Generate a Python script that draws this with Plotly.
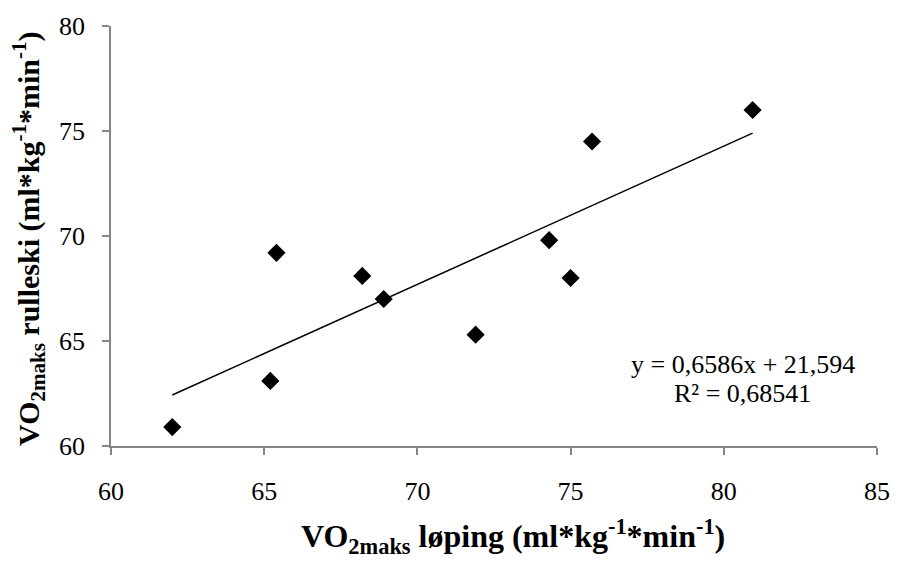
import plotly.graph_objects as go

# Data
x_running = [62.0, 65.2, 65.4, 68.2, 68.9, 71.9, 74.3, 75.0, 75.7, 80.94]
y_rollerski = [60.9, 63.1, 69.2, 68.1, 67.0, 65.3, 69.8, 68.0, 74.5, 76.0]
slope = 0.6586
intercept = 21.594
r2_text = "0,68541"
x_ticks = [60, 65, 70, 75, 80, 85]
y_ticks = [60, 65, 70, 75, 80]
x_title = "<b>VO<sub>2maks</sub> løping (ml*kg<sup>-1</sup>*min<sup>-1</sup>)</b>"
y_title = "<b>VO<sub>2maks</sub> rulleski (ml*kg<sup>-1</sup>*min<sup>-1</sup>)</b>"

x_line = [min(x_running), max(x_running)]
y_line = [slope * v + intercept for v in x_line]

font = "Liberation Serif"
axis_gray = "#868686"
L, R, T, B = 111, 16, 20, 118
W, H = 902, 564
pw, ph = W - L - R, H - T - B

fig = go.Figure()
fig.add_trace(go.Scatter(
    x=x_line, y=y_line, mode="lines",
    line=dict(color="black", width=1.5), showlegend=False, hoverinfo="skip"))
fig.add_trace(go.Scatter(
    x=x_running, y=y_rollerski, mode="markers",
    marker=dict(symbol="diamond", size=14, color="black"),
    showlegend=False))

fig.update_layout(
    width=W, height=H,
    margin=dict(l=L, r=R, t=T, b=B),
    plot_bgcolor="white", paper_bgcolor="white",
    font=dict(family=font, size=26, color="black"),
    xaxis=dict(
        range=[60, 85], tickvals=x_ticks, showgrid=False, zeroline=False,
        showline=True, linecolor=axis_gray, linewidth=1.5,
        ticks="outside", ticklen=7, tickcolor=axis_gray, tickwidth=1.5,
        ticklabelstandoff=14,
        tickfont=dict(family=font, size=26, color="black"),
    ),
    yaxis=dict(
        range=[60, 80], tickvals=y_ticks, showgrid=False, zeroline=False,
        showline=True, linecolor=axis_gray, linewidth=1.5,
        ticks="outside", ticklen=7, tickcolor=axis_gray, tickwidth=1.5,
        ticklabelstandoff=12,
        tickfont=dict(family=font, size=26, color="black"),
    ),
)

def px_x(p):
    return (p - L) / pw

def px_y(p):
    return (H - B - p) / ph

fig.add_annotation(
    xref="paper", yref="paper", x=px_x(518), y=px_y(538),
    text=x_title, showarrow=False, xanchor="center", yanchor="middle",
    font=dict(family=font, size=32, color="black"))
fig.add_annotation(
    xref="paper", yref="paper", x=px_x(28), y=px_y(236),
    text=y_title, showarrow=False, xanchor="center", yanchor="middle",
    textangle=-90,
    font=dict(family=font, size=30, color="black"))

fig.add_annotation(
    xref="paper", yref="paper", x=px_x(750), y=px_y(363),
    text=f"y = {str(slope).replace('.', ',')}x + {str(intercept).replace('.', ',')}",
    showarrow=False, xanchor="center", yanchor="middle",
    font=dict(family=font, size=26, color="black"))
fig.add_annotation(
    xref="paper", yref="paper", x=px_x(750), y=px_y(393),
    text=f"R² = {r2_text}",
    showarrow=False, xanchor="center", yanchor="middle",
    font=dict(family=font, size=26, color="black"))

fig.write_html("out.html")
